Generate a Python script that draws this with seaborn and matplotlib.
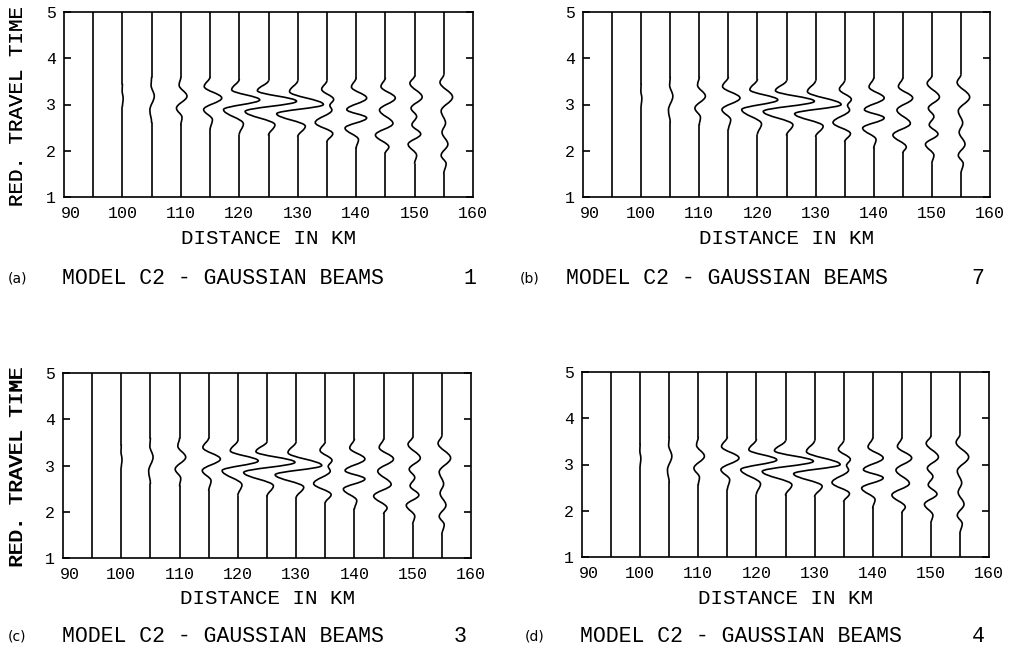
import matplotlib
matplotlib.use("Agg")
import matplotlib.pyplot as plt
import matplotlib.transforms as mtransforms
from matplotlib.path import Path
from matplotlib.patches import PathPatch
import seaborn as sns

# ---------------- data ----------------
DISTANCES = [95, 100, 105, 110, 115, 120, 125, 130, 135, 140, 145, 150, 155]

# reduced travel time of every turning point of each trace (bottom to top);
# the first and last entries are where the trace leaves / rejoins its zero line
TURN_TIMES = [
    [],
    [2.95, 3.13, 3.30, 3.45],
    [2.60, 2.88, 3.18, 3.42, 3.60],
    [2.55, 2.72, 2.92, 3.18, 3.42, 3.60],
    [2.45, 2.67, 2.89, 3.14, 3.39, 3.60],
    [2.35, 2.58, 2.89, 3.10, 3.32, 3.55],
    [2.33, 2.56, 2.85, 3.07, 3.30, 3.52],
    [2.30, 2.53, 2.80, 3.00, 3.28, 3.52],
    [2.19, 2.37, 2.61, 2.88, 2.98, 3.11, 3.33, 3.52],
    [2.05, 2.24, 2.49, 2.71, 2.89, 3.14, 3.38, 3.58],
    [1.95, 2.08, 2.34, 2.59, 2.88, 3.14, 3.39, 3.58],
    [1.72, 1.90, 2.14, 2.36, 2.56, 2.74, 2.92, 3.16, 3.46, 3.62],
    [1.50, 1.72, 1.90, 2.14, 2.40, 2.60, 2.86, 3.16, 3.48, 3.65],
]
# horizontal deflection (km) of each trace at those turning points
TURN_SHIFTS = [
    [],
    [0, 0.12, -0.05, 0],
    [0, -0.30, 0.45, -0.10, 0],
    [0, 0.20, -0.75, 1.05, -0.30, 0],
    [0, 0.40, -1.10, 2.00, -1.00, 0],
    [0, 0.70, -2.70, 3.50, -1.30, 0],
    [0, 1.10, -4.00, 4.80, -1.90, 0],
    [0, 1.30, -3.60, 4.40, -1.40, 0],
    [0, 1.00, -2.00, 0.85, 0.50, 1.15, -0.90, 0],
    [0, 0.40, -1.90, 1.80, -1.60, 1.80, -0.80, 0],
    [0, 0.60, -1.70, 1.30, -1.00, 1.70, -0.75, 0],
    [0, 0.35, -1.10, 1.05, -0.45, 0.35, -0.60, 1.30, -0.80, 0],
    [0, 0.40, -0.45, 0.70, -0.30, 0.30, -0.45, 1.50, -0.65, 0],
]

X_TICKS = [90, 100, 110, 120, 130, 140, 150, 160]
Y_TICKS = [1, 2, 3, 4, 5]
X_LABEL = "DISTANCE IN KM"
Y_LABEL = "RED. TRAVEL TIME"
TITLE = "MODEL C2 - GAUSSIAN BEAMS"
PANEL_TAGS = ["(a)", "(b)", "(c)", "(d)"]
PANEL_NUMBERS = ["1", "7", "3", "4"]

# ---------------- layout / style ----------------
W, H = 1013, 654
DPI = 100
LW = 1.2
K = 0.364  # bezier handle fraction for smooth sine-like swings
FONT = ["Liberation Mono", "DejaVu Sans Mono"]

# axes boxes in pixels: left, top, right, bottom
AX_BOX = [
    (64, 12, 473, 197),
    (583, 12, 990, 197),
    (63, 373, 471, 558),
    (582, 372, 989, 557),
]
# caption positions in pixels: tag x, title x, number x, y
CAPTIONS = [
    (8, 62, 470, 278),
    (520, 566, 978, 278),
    (8, 62, 460, 637),
    (525, 580, 978, 637),
]

sns.set_theme(style="ticks", rc={
    "axes.edgecolor": "black",
    "axes.linewidth": LW,
    "xtick.color": "black",
    "ytick.color": "black",
    "text.color": "black",
    "axes.labelcolor": "black",
    "ytick.major.width": LW,
})
plt.rcParams["font.family"] = FONT

fig = plt.figure(figsize=(W / DPI, H / DPI), dpi=DPI)


def draw_trace(ax, d, ts, xs):
    kw = dict(estimator=None, sort=False, color="black", linewidth=LW, ax=ax, legend=False)
    if not ts:
        sns.lineplot(x=[d, d], y=[Y_TICKS[0], Y_TICKS[-1]], **kw)
        return
    sns.lineplot(x=[d, d], y=[Y_TICKS[0], ts[0]], **kw)
    sns.lineplot(x=[d, d], y=[ts[-1], Y_TICKS[-1]], **kw)
    verts = [(d + xs[0], ts[0])]
    codes = [Path.MOVETO]
    for i in range(len(ts) - 1):
        dt = ts[i + 1] - ts[i]
        verts += [(d + xs[i], ts[i] + K * dt),
                  (d + xs[i + 1], ts[i + 1] - K * dt),
                  (d + xs[i + 1], ts[i + 1])]
        codes += [Path.CURVE4] * 3
    ax.add_patch(PathPatch(Path(verts, codes), fill=False, lw=LW,
                           edgecolor="black", capstyle="butt", joinstyle="round"))


for p in range(4):
    l, t, r, b = AX_BOX[p]
    ax = fig.add_axes([l / W, 1 - b / H, (r - l) / W, (b - t) / H])
    for d, ts, xs in zip(DISTANCES, TURN_TIMES, TURN_SHIFTS):
        draw_trace(ax, d, ts, xs)
    ax.set_xlim(X_TICKS[0], X_TICKS[-1])
    ax.set_ylim(Y_TICKS[0], Y_TICKS[-1])
    ax.set_xticks(X_TICKS)
    ax.set_yticks(Y_TICKS)
    ax.set_xticklabels([str(v) for v in X_TICKS])
    ax.set_yticklabels([str(v) for v in Y_TICKS])
    ax.tick_params(axis="x", length=0, pad=6.5, labelsize=12)
    ax.tick_params(axis="y", direction="in", length=5, right=True,
                   labelright=False, pad=6, labelsize=12)
    for s in ax.spines.values():
        s.set_visible(True)
        s.set_linewidth(LW)
    # shift the first distance label a little to the right, as in the reference
    first = ax.xaxis.get_major_ticks()[0].label1
    first.set_transform(first.get_transform() +
                        mtransforms.ScaledTranslation(7 / DPI, 0, fig.dpi_scale_trans))
    ax.set_xlabel(X_LABEL, fontsize=15)
    ax.set_ylabel(Y_LABEL, fontsize=15)
    ax.xaxis.set_label_coords(0.5, -(41) / (b - t))
    ax.xaxis.label.set_verticalalignment("center")
    ax.yaxis.set_label_coords(-(l - 18) / (r - l), 0.49)
    ax.yaxis.label.set_verticalalignment("center")

    tx, mx, nx, cy = CAPTIONS[p]
    fig.text(tx / W, 1 - cy / H, PANEL_TAGS[p], fontsize=10, va="center",
             ha="left", family=["DejaVu Sans"])
    fig.text(mx / W, 1 - cy / H, TITLE, fontsize=15.5, va="center", ha="left")
    fig.text(nx / W, 1 - cy / H, PANEL_NUMBERS[p], fontsize=15.5, va="center", ha="center")

fig.savefig("out.png", dpi=DPI)
